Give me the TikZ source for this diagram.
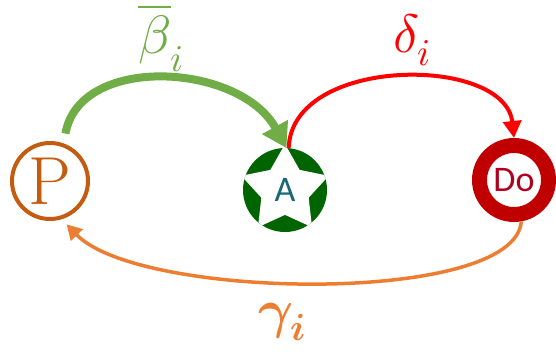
\documentclass[tikz,border=0pt]{standalone}
\usepackage{fontspec}
\usepackage{unicode-math}
\setmathfont{Latin Modern Math}
\newfontfamily\carlito{Carlito}
\usetikzlibrary{arrows.meta,shapes.geometric}
\definecolor{pbrown}{RGB}{197,90,17}
\definecolor{agreen}{RGB}{0,100,0}
\definecolor{ateal}{RGB}{23,104,120}
\definecolor{dored}{RGB}{192,0,0}
\definecolor{dotext}{RGB}{176,0,32}
\definecolor{bgreen}{RGB}{112,173,71}
\definecolor{dred}{RGB}{255,0,0}
\definecolor{gorange}{RGB}{237,125,49}
\begin{document}
\begin{tikzpicture}[x=1pt,y=-1pt,
  pnode/.style={circle,draw=pbrown,line width=4pt,minimum size=76pt,inner sep=0pt,text=pbrown,font=\fontsize{68}{80}\selectfont},
  anode/.style={circle,fill=agreen,minimum size=84pt,inner sep=0pt,outer sep=0pt},
  astar/.style={star,star points=5,star point ratio=1.85,fill=white,minimum size=92pt,inner sep=0pt,outer sep=0pt,text=ateal,font=\carlito\fontsize{36}{40}\selectfont},
  donode/.style={circle,draw=dored,line width=15pt,minimum size=69pt,inner sep=0pt,text=dotext,font=\carlito\fontsize{36}{40}\selectfont},
  lab/.style={inner sep=0pt,anchor=base west,font=\fontsize{54}{60}\selectfont},
  garrow/.style={draw=bgreen,line width=8pt,-{Triangle[length=24pt,width=28pt]},shorten <=10pt},
  rarrow/.style={draw=dred,line width=4pt,-{Triangle[length=17pt,width=18pt]}},
  oarrow/.style={draw=gorange,line width=3.5pt,-{Triangle[length=15pt,width=16pt]},shorten >=7pt},
  ]
\useasboundingbox (0,0) rectangle (556,351);
\node[pnode] (P) at (50,181) {P};
\node[anode] (A) at (285,190) {};
\begin{scope}
\clip (285,190) circle (42pt);
\node[astar] (Astar) at (285,190) {A};
\end{scope}
\node[donode] (Do) at (514,180) {Do};

\draw[garrow] (P.70) .. controls +(16,-90) and +(-46.5,-85) .. (A.88);
\draw[rarrow] (A.85) .. controls +(3,-93) and +(-9,-83) .. (Do.north);
\draw[oarrow] (Do.-80) .. controls +(-6,84) and +(78,81) .. (P.-73);

\node[lab,text=bgreen] (lbeta) at (138,53) {$\overline{\beta}_i$};
\node[lab,text=dred] (ldelta) at (393,52) {$\delta_i$};
\node[lab,text=gorange] (lgamma) at (258,327) {$\symbfit{\gamma}_{\symbfit{i}}$};
\end{tikzpicture}
\end{document}
